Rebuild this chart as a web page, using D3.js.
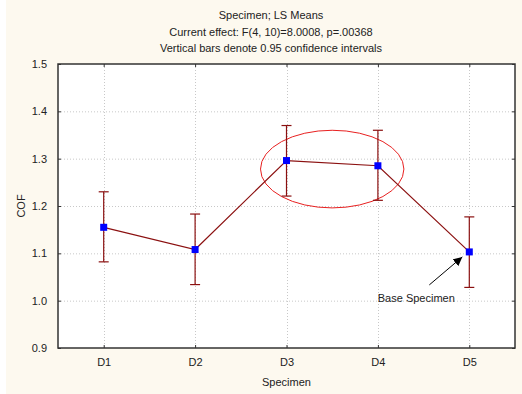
<!DOCTYPE html>
<html><head><meta charset="utf-8">
<script src="https://cdn.jsdelivr.net/npm/d3@7"></script>
<style>
html,body{margin:0;padding:0;background:#fdf9ef;}
text{font-family:"Liberation Sans",Arial,sans-serif;fill:#222;}
</style></head>
<body>
<svg id="chart" width="522" height="394"></svg>
<script>
const categories = ["D1","D2","D3","D4","D5"];
const means = [1.155, 1.108, 1.296, 1.285, 1.103];
const upper = [1.230, 1.183, 1.370, 1.360, 1.177];
const lower = [1.082, 1.034, 1.221, 1.212, 1.028];
const yTicks = [0.9, 1.0, 1.1, 1.2, 1.3, 1.4, 1.5];
const titles = ["Specimen; LS Means","Current effect: F(4, 10)=8.0008, p=.00368","Vertical bars denote 0.95 confidence intervals"];
const xLabel = "Specimen", yLabel = "COF";
const annotation = "Base Specimen";
const ellipseCenterValue = 1.278;
const ellipseRadiusValue = 0.082;

const svg = d3.select("#chart");
svg.append("rect").attr("x", 0).attr("y", 0).attr("width", 6).attr("height", 394).attr("fill", "#fff");
const L = 58, R = 515, T = 64, B = 348;
const x = d3.scalePoint().domain(categories).range([L, R]).padding(0.5);
const y = d3.scaleLinear().domain([0.9, 1.5]).range([B, T]);

svg.append("rect").attr("x", L).attr("y", T).attr("width", R - L).attr("height", B - T).attr("fill", "#fff");

// grid
svg.append("g").selectAll("line").data(yTicks.slice(1, -1)).join("line")
  .attr("x1", L).attr("x2", R).attr("y1", d => y(d) + 0.5).attr("y2", d => y(d) + 0.5)
  .attr("stroke", "#c8c8c8").attr("stroke-dasharray", "1,2");
svg.append("g").selectAll("line").data(categories).join("line")
  .attr("x1", d => Math.round(x(d)) + 0.5).attr("x2", d => Math.round(x(d)) + 0.5).attr("y1", T).attr("y2", B)
  .attr("stroke", "#c8c8c8").attr("stroke-dasharray", "1,2");

// axes (inward ticks)
const axL = svg.append("g").attr("transform", `translate(${L},0)`)
  .call(d3.axisLeft(y).tickValues(yTicks).tickFormat(d3.format(".1f")).tickSizeInner(-3).tickSizeOuter(0).tickPadding(11));
const axR = svg.append("g").attr("transform", `translate(${R},0)`)
  .call(d3.axisRight(y).tickValues(yTicks).tickFormat("").tickSizeInner(-3).tickSizeOuter(0));
const axB = svg.append("g").attr("transform", `translate(0,${B})`)
  .call(d3.axisBottom(x).tickSizeInner(-3).tickSizeOuter(0).tickPadding(10));
const axT = svg.append("g").attr("transform", `translate(0,${T})`)
  .call(d3.axisTop(x).tickFormat("").tickSizeInner(-3).tickSizeOuter(0));
[axL, axR, axB, axT].forEach(g => {
  g.select(".domain").remove();
  g.selectAll(".tick line").attr("stroke", "#333");
  g.selectAll("text").style("font-family", "Liberation Sans, Arial, sans-serif").style("font-size", "11px").attr("fill", "#222");
});
svg.append("rect").attr("x", L).attr("y", T).attr("width", R - L).attr("height", B - T)
  .attr("fill", "none").attr("stroke", "#333").attr("stroke-width", 1.5);

// ellipse
svg.append("ellipse")
  .attr("cx", (x("D3") + x("D4")) / 2)
  .attr("cy", y(ellipseCenterValue))
  .attr("rx", (x("D4") - x("D3")) / 2 + 26)
  .attr("ry", y(1.5 - ellipseRadiusValue) - y(1.5))
  .attr("fill", "none").attr("stroke", "#e82020").attr("stroke-width", 1);

// line
const data = categories.map((c, i) => ({c, m: means[i], u: upper[i], l: lower[i]}));
svg.append("path").datum(data)
  .attr("d", d3.line().x(d => x(d.c)).y(d => y(d.m)))
  .attr("fill", "none").attr("stroke", "#8b1010").attr("stroke-width", 1.2);

// error bars
const eb = svg.append("g").attr("stroke", "#8b1010").attr("stroke-width", 1.2);
eb.selectAll(".v").data(data).join("line")
  .attr("x1", d => x(d.c)).attr("x2", d => x(d.c)).attr("y1", d => y(d.u)).attr("y2", d => y(d.l));
eb.selectAll(".cu").data(data).join("line")
  .attr("x1", d => x(d.c) - 5).attr("x2", d => x(d.c) + 5).attr("y1", d => y(d.u)).attr("y2", d => y(d.u));
eb.selectAll(".cl").data(data).join("line")
  .attr("x1", d => x(d.c) - 5).attr("x2", d => x(d.c) + 5).attr("y1", d => y(d.l)).attr("y2", d => y(d.l));

// markers
svg.append("g").selectAll("rect").data(data).join("rect")
  .attr("x", d => x(d.c) - 3.5).attr("y", d => y(d.m) - 3.5).attr("width", 7).attr("height", 7)
  .attr("fill", "#0000ff");

// annotation arrow
const defs = svg.append("defs");
defs.append("marker").attr("id", "ah").attr("viewBox", "0 0 10 10").attr("refX", 10).attr("refY", 5)
  .attr("markerWidth", 9).attr("markerHeight", 9).attr("markerUnits", "userSpaceOnUse").attr("orient", "auto")
  .append("path").attr("d", "M0,0 L10,5 L0,10 z").attr("fill", "#000");
const px = x("D5"), py = y(means[4]);
svg.append("line").attr("x1", px - 40).attr("y1", py + 33).attr("x2", px - 7).attr("y2", py + 5)
  .attr("stroke", "#000").attr("stroke-width", 1).attr("marker-end", "url(#ah)");
svg.append("text").attr("x", px - 53).attr("y", py + 50).attr("text-anchor", "middle")
  .style("font-size", "11px").text(annotation);

// titles
svg.append("g").selectAll("text").data(titles).join("text")
  .attr("x", 271).attr("y", (d, i) => 19 + i * 16.5).attr("text-anchor", "middle")
  .style("font-size", "11px").text(d => d);

svg.append("text").attr("x", (L + R) / 2).attr("y", 386).attr("text-anchor", "middle")
  .style("font-size", "11px").text(xLabel);
svg.append("text").attr("transform", `translate(25,${(T + B) / 2}) rotate(-90)`).attr("text-anchor", "middle")
  .style("font-size", "11px").text(yLabel);
</script>
</body></html>
